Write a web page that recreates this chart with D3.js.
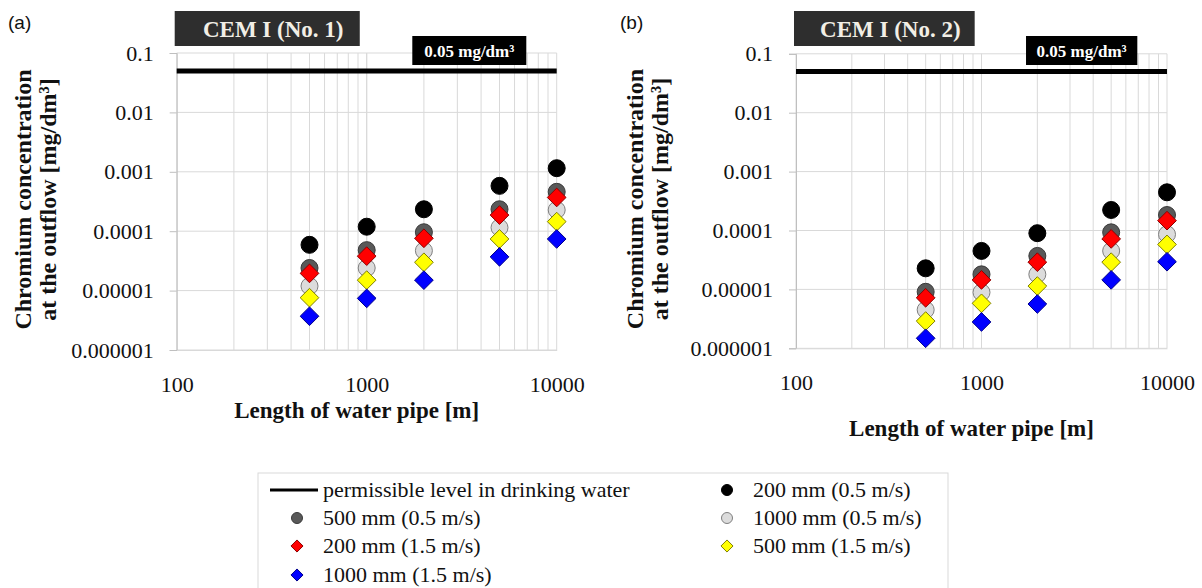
<!DOCTYPE html>
<html>
<head>
<meta charset="utf-8">
<script src="https://cdn.jsdelivr.net/npm/d3@7"></script>
<style>
  body { margin: 0; background: #fff; }
  svg { display: block; }
</style>
</head>
<body>
<svg id="chart" width="1202" height="588"></svg>
<script>
// pipe lengths [m]
const lengths = [500, 1000, 2000, 5000, 10000];
const xTicks = [100, 1000, 10000];
const yTicks = [0.1, 0.01, 0.001, 0.0001, 0.00001, 0.000001];
const yTickLabels = ["0.1", "0.01", "0.001", "0.0001", "0.00001", "0.000001"];
const limitValue = 0.05;
const limitLabel = "0.05 mg/dm³";

const seriesNames = ["200 mm (0.5 m/s)", "500 mm (0.5 m/s)", "1000 mm (0.5 m/s)",
                     "200 mm (1.5 m/s)", "500 mm (1.5 m/s)", "1000 mm (1.5 m/s)"];

// CEM I (No. 1)
const cem1_200_05  = [5.9e-5, 1.19e-4, 2.34e-4, 5.8e-4, 1.15e-3];
const cem1_500_05  = [2.4e-5, 4.8e-5, 9.6e-5, 2.34e-4, 4.6e-4];
const cem1_1000_05 = [1.19e-5, 2.4e-5, 4.7e-5, 1.15e-4, 2.28e-4];
const cem1_200_15  = [1.95e-5, 3.8e-5, 7.6e-5, 1.87e-4, 3.7e-4];
const cem1_500_15  = [7.6e-6, 1.5e-5, 3.0e-5, 7.4e-5, 1.45e-4];
const cem1_1000_15 = [3.7e-6, 7.4e-6, 1.5e-5, 3.7e-5, 7.4e-5];

// CEM I (No. 2)
const cem2_200_05  = [2.28e-5, 4.5e-5, 9.0e-5, 2.23e-4, 4.45e-4];
const cem2_500_05  = [9.1e-6, 1.8e-5, 3.7e-5, 9.3e-5, 1.83e-4];
const cem2_1000_05 = [4.5e-6, 8.9e-6, 1.8e-5, 4.5e-5, 8.6e-5];
const cem2_200_15  = [7.2e-6, 1.45e-5, 2.9e-5, 7.2e-5, 1.47e-4];
const cem2_500_15  = [2.9e-6, 5.8e-6, 1.14e-5, 2.9e-5, 5.8e-5];
const cem2_1000_15 = [1.48e-6, 2.8e-6, 5.65e-6, 1.45e-5, 2.95e-5];

// marker look per series
const styles = [
  {shape: "circle",  fill: "#000000", stroke: "#000000"},
  {shape: "circle",  fill: "#595959", stroke: "#3a3a3a"},
  {shape: "circle",  fill: "#dcdcdc", stroke: "#7f7f7f"},
  {shape: "diamond", fill: "#ff0000", stroke: "#8b0000"},
  {shape: "diamond", fill: "#ffff00", stroke: "#7f7f00"},
  {shape: "diamond", fill: "#0000ff", stroke: "#00008b"}
];

const panels = [
  {tag: "(a)", tagX: 8, title: "CEM I (No. 1)", series: [cem1_200_05, cem1_500_05, cem1_1000_05, cem1_200_15, cem1_500_15, cem1_1000_15],
   left: 176.7, right: 556.7, top: 53, bottom: 350, titleY: 418, yTitleX: 31},
  {tag: "(b)", tagX: 620, title: "CEM I (No. 2)", series: [cem2_200_05, cem2_500_05, cem2_1000_05, cem2_200_15, cem2_500_15, cem2_1000_15],
   left: 796, right: 1167, top: 53.8, bottom: 348.3, titleY: 436, yTitleX: 643}
];

const svg = d3.select("#chart");
const serif = "'Liberation Serif', 'Times New Roman', serif";

function drawMarker(g, st, x, y, r) {
  if (st.shape == "circle") {
    g.append("circle").attr("cx", x).attr("cy", y).attr("r", r)
      .attr("fill", st.fill).attr("stroke", st.stroke).attr("stroke-width", 1);
  } else {
    const s = r * 1.1;
    g.append("path")
      .attr("d", `M${x},${y - s}L${x + s},${y}L${x},${y + s}L${x - s},${y}Z`)
      .attr("fill", st.fill).attr("stroke", st.stroke).attr("stroke-width", 1);
  }
}

panels.forEach(function(p) {
  const x = d3.scaleLog().domain([100, 10000]).range([p.left, p.right]);
  const y = d3.scaleLog().domain([0.000001, 0.1]).range([p.bottom, p.top]);
  const g = svg.append("g");

  // minor vertical gridlines
  const minor = [];
  [100, 1000].forEach(function(d) { for (let k = 1; k <= 10; k++) minor.push(d * k); });
  g.append("g").selectAll("line")
    .data(minor)
    .join("line")
      .attr("x1", d => x(d)).attr("x2", d => x(d))
      .attr("y1", p.top).attr("y2", p.bottom)
      .attr("stroke", "#d9d9d9").attr("stroke-width", 1);

  // horizontal gridlines
  g.append("g").selectAll("line")
    .data(yTicks)
    .join("line")
      .attr("x1", p.left).attr("x2", p.right)
      .attr("y1", d => y(d)).attr("y2", d => y(d))
      .attr("stroke", "#d9d9d9").attr("stroke-width", 1);

  // y axis
  const yAxis = g.append("g")
    .attr("transform", `translate(${p.left},0)`)
    .call(d3.axisLeft(y).tickValues(yTicks).tickSize(7).tickPadding(16)
      .tickFormat((d, i) => yTickLabels[i]));
  yAxis.attr("font-family", serif).attr("font-size", 22);
  yAxis.select(".domain").attr("stroke", "#bfbfbf");
  yAxis.selectAll(".tick line").attr("stroke", "#bfbfbf");
  yAxis.selectAll(".tick text").attr("fill", "#111");

  // x axis
  const xAxis = g.append("g")
    .attr("transform", `translate(0,${p.bottom})`)
    .call(d3.axisBottom(x).tickValues(xTicks).tickSize(0).tickPadding(26)
      .tickFormat(d3.format("d")));
  xAxis.attr("font-family", serif).attr("font-size", 22);
  xAxis.select(".domain").attr("stroke", "#d9d9d9");
  xAxis.selectAll(".tick text").attr("fill", "#111");

  // permissible level line
  g.append("line")
    .attr("x1", p.left).attr("x2", p.right)
    .attr("y1", y(limitValue)).attr("y2", y(limitValue))
    .attr("stroke", "#000").attr("stroke-width", 5);

  // markers: circles first then diamonds
  p.series.forEach(function(vals, si) {
    const mg = g.append("g");
    vals.forEach(function(v, i) {
      drawMarker(mg, styles[si], x(lengths[i]), y(v), 8.5);
    });
  });

  // title box
  const w = p.right - p.left;
  g.append("rect")
    .attr("x", p.left - 2).attr("y", 11)
    .attr("width", w * 0.487).attr("height", 35)
    .attr("fill", "#2e2e2e");
  g.append("text")
    .attr("x", p.left - 2 + w * 0.487 / 2 + 6).attr("y", 37)
    .attr("text-anchor", "middle")
    .attr("font-family", serif).attr("font-weight", "bold").attr("font-size", 23)
    .attr("fill", "#f2efe6")
    .text(p.title);

  // limit label box
  g.append("rect")
    .attr("x", p.left + w * 0.62).attr("y", 36)
    .attr("width", w * 0.30).attr("height", 29)
    .attr("fill", "#000");
  g.append("text")
    .attr("x", p.left + w * 0.77).attr("y", 57)
    .attr("text-anchor", "middle")
    .attr("font-family", serif).attr("font-weight", "bold").attr("font-size", 17)
    .attr("fill", "#fff")
    .text(limitLabel);

  // panel tag
  svg.append("text")
    .attr("x", p.tagX).attr("y", 29)
    .attr("font-family", "'Liberation Sans', Arial, sans-serif").attr("font-size", 19)
    .attr("fill", "#111")
    .text(p.tag);

  // axis titles
  svg.append("text")
    .attr("x", (p.left + p.right) / 2 - 10).attr("y", p.titleY)
    .attr("text-anchor", "middle")
    .attr("font-family", serif).attr("font-weight", "bold").attr("font-size", 23)
    .attr("fill", "#111")
    .text("Length of water pipe [m]");

  const cy = (p.top + p.bottom) / 2 - 2;
  ["Chromium concentration", "at the outflow [mg/dm³]"].forEach(function(t, i) {
    svg.append("text")
      .attr("transform", `translate(${p.yTitleX + i * 25},${cy}) rotate(-90)`)
      .attr("text-anchor", "middle")
      .attr("font-family", serif).attr("font-weight", "bold").attr("font-size", 24)
      .attr("fill", "#111")
      .text(t);
  });
});

// legend
const legend = svg.append("g");
legend.append("rect")
  .attr("x", 258).attr("y", 473).attr("width", 690).attr("height", 130)
  .attr("fill", "#fff").attr("stroke", "#d9d9d9");

const legendItems = [{label: "permissible level in drinking water", line: true}]
  .concat(seriesNames.map((n, i) => ({label: n, style: styles[i]})));
const rowY = [490, 518, 546, 575];
legendItems.forEach(function(item, i) {
  const col = i % 2, row = Math.floor(i / 2);
  const yy = rowY[row];
  const mx = col == 0 ? 297 : 727;
  const tx = col == 0 ? 323 : 753;
  if (item.line) {
    legend.append("line").attr("x1", 270).attr("x2", 318).attr("y1", yy).attr("y2", yy)
      .attr("stroke", "#000").attr("stroke-width", 3);
  } else {
    drawMarker(legend, item.style, mx, yy, 5.5);
  }
  legend.append("text")
    .attr("x", tx).attr("y", yy + 7)
    .attr("font-family", serif).attr("font-size", 22)
    .attr("fill", "#111")
    .text(item.label);
});
</script>
</body>
</html>
